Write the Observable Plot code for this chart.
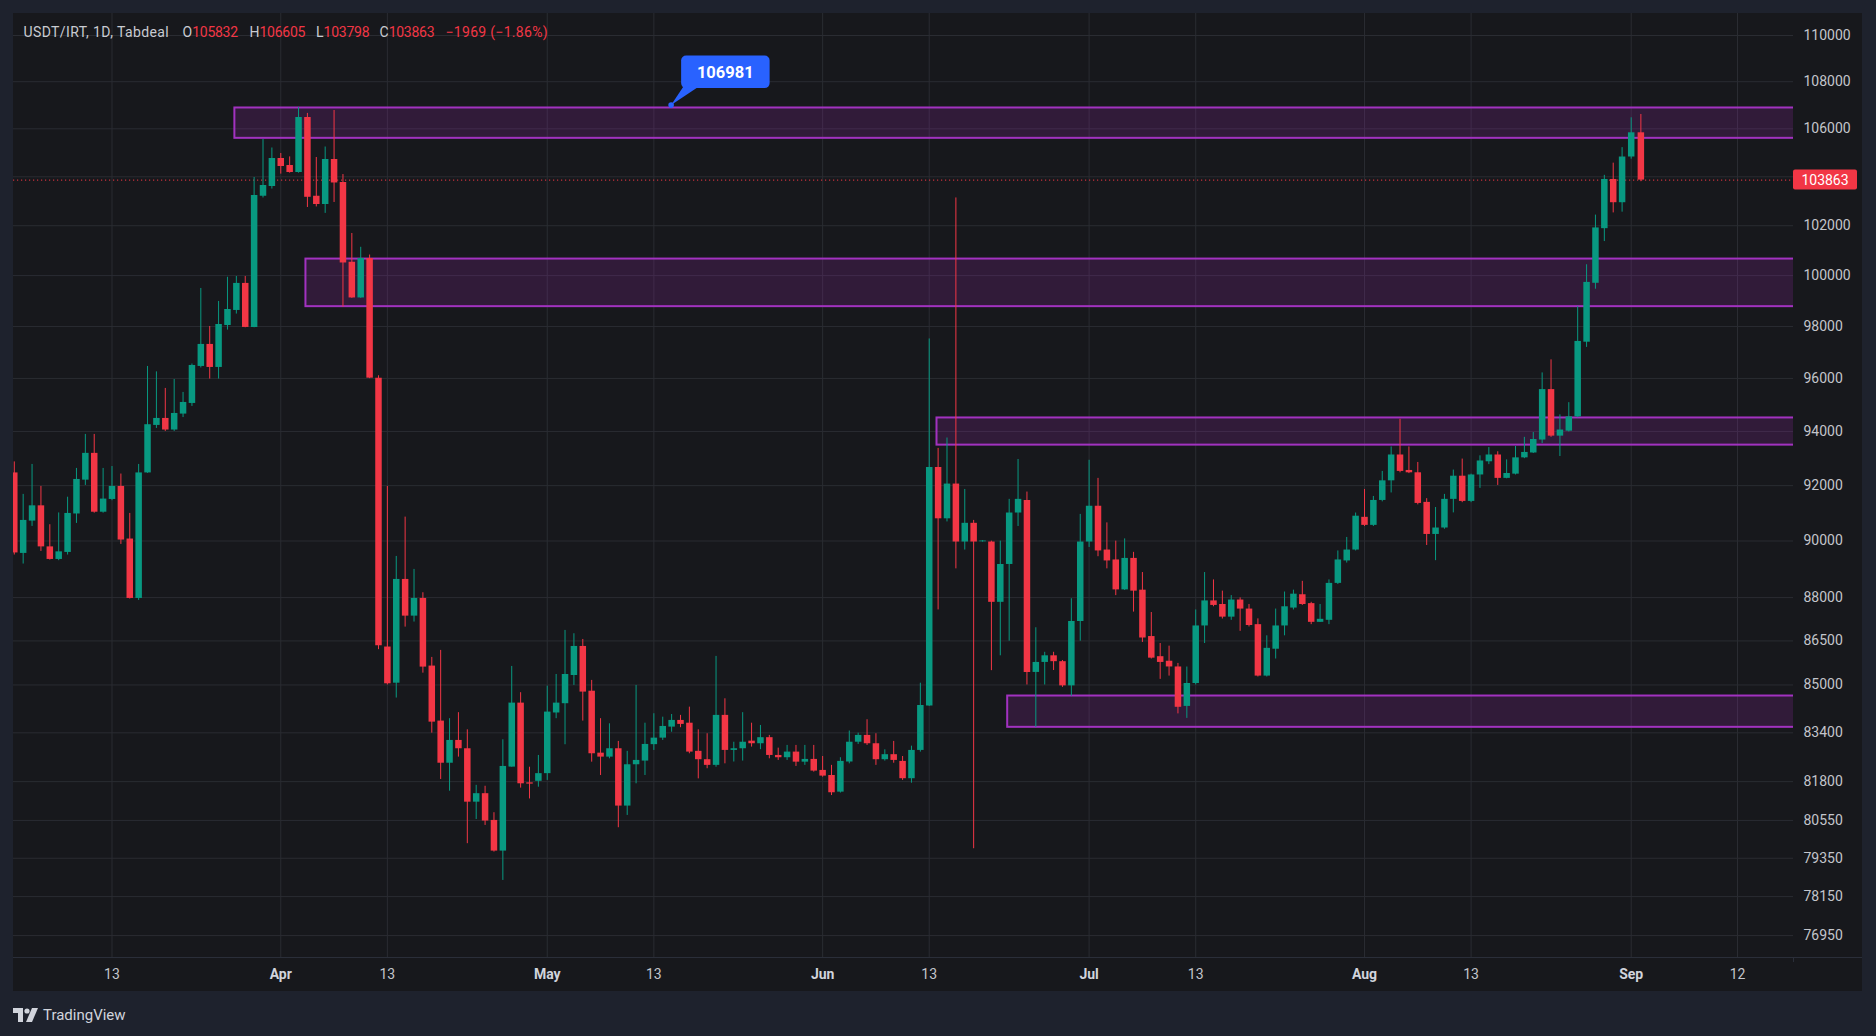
<!DOCTYPE html>
<html>
<head>
<meta charset="utf-8">
<script src="https://cdn.jsdelivr.net/npm/d3@7"></script>
<script src="https://cdn.jsdelivr.net/npm/@observablehq/plot@0.6"></script>
<style>
html,body{margin:0;padding:0;background:#1e222d;width:1876px;height:1036px;overflow:hidden;font-family:Roboto,"Noto Sans",sans-serif;}
#panel{position:absolute;left:13px;top:13px;width:1849px;height:978px;background:#17181c;}
#chart{position:absolute;left:0;top:0;}
#header{position:absolute;left:0;top:24px;height:20px;width:700px;font-size:14px;color:#c9cbd1;white-space:pre;}
#header span{position:absolute;top:0;}
#header .v{color:#f23645;}
#logo{position:absolute;left:13px;top:1005px;height:20px;display:flex;align-items:center;color:#d1d4dc;font-size:15px;}
</style>
</head>
<body>
<div id="panel"></div>
<div id="chart"></div>
<div id="header"></div>
<div id="logo"><svg width="27" height="14" viewBox="0 0 27 14"><path d="M0 0h10v14H5V5H0z" fill="#d1d4dc"/><circle cx="14" cy="3" r="2.6" fill="#d1d4dc"/><path d="M19 0h6l-6 14h-6z" fill="#d1d4dc"/></svg><span style="margin-left:3px">TradingView</span></div>
<script>
// ---- data ----
const firstDay = "2025-03-02";
const lastDay = "2025-09-02";
const missingDays = ["2025-08-31"];
const opens = [92465,89557,90713,91265,89790,89343,89592,90970,92200,93186,91034,91496,91971,90070,87970,92465,94225,94487,94053,94650,95050,96457,97304,96419,98039,98625,99690,97963,103200,103600,104758,104467,104177,106476,103200,102862,104717,103765,100530,99116,100681,96010,86290,85060,88637,87355,87970,85640,83790,82400,83149,82875,81136,81410,80550,79575,82273,84390,81760,81810,82060,84060,84370,85320,86310,84790,82730,82600,82875,81010,82350,82470,83010,83225,83590,83812,83720,82790,82515,82330,83980,82820,82875,83126,83040,83240,82655,82580,82765,82435,82525,82165,82000,81460,82440,83090,83315,83040,82515,82680,82460,81895,82820,84295,92665,90796,92057,89963,90634,89970,89963,87835,89165,91005,91460,85424,85764,85990,85790,84970,87170,89963,91250,89677,89325,88270,89380,88260,86650,85960,85805,85610,84280,85050,87015,87885,87760,87320,87915,87600,87060,85300,86215,87015,87635,88100,87790,87140,87210,88498,89290,89677,90850,90560,91460,92175,93126,92556,92470,91390,90234,90465,91500,92345,91425,92390,92875,93126,92265,92420,93020,93200,93680,95575,93825,94010,94545,97390,99695,101880,103890,102935,104820,105832];
const highs = [92870,91680,92777,91971,90583,91008,91578,92630,93889,93889,92630,92700,92424,90990,92777,96457,96250,95619,95960,95467,96550,99490,98000,98979,99933,99965,99965,103971,105552,105196,104967,104825,106900,106650,104800,105237,106773,104093,101686,101130,100820,96100,91970,89450,90857,88990,88170,85935,86174,83870,84070,83500,81680,81650,80797,83170,85628,84740,82270,82655,84960,85355,86861,86746,86550,85154,83870,83700,83116,82790,84985,83720,84035,83920,84010,83980,84255,83500,83370,85970,84535,83090,84070,83720,83645,83315,82895,82985,82985,82985,82985,82620,82330,82580,83460,83390,83835,83370,82840,83116,82620,82960,85060,97516,93370,93755,103130,91860,90738,90010,89995,89995,91500,92960,91765,86953,86110,86110,85830,87960,90955,92930,92265,90650,89995,90075,89595,88880,87480,86410,86320,85730,85608,87570,88880,88620,88226,88070,87990,87760,87260,86675,87600,88195,88260,88570,87835,87760,88620,89645,90127,91005,91860,91606,92520,93424,94457,93424,92850,91525,91205,91680,92570,92975,92420,93095,93400,93245,92945,93440,93780,93960,96210,96710,94620,95080,98770,100430,102430,104060,104565,105210,106465,106605];
const lows = [89500,89180,90522,89628,89320,89300,89500,90630,92007,91000,91000,91450,89877,87950,87900,92450,94113,94000,94000,94520,94938,96400,95976,95976,97860,98484,97950,97950,103129,103494,104110,104150,104150,102740,102763,102500,102944,98755,99100,99100,95990,86200,85000,84560,86975,87150,85400,83390,81870,81490,82600,79810,80580,80390,79544,78654,82270,81590,81240,81620,81840,83870,83007,84985,83790,82435,82000,82545,80317,80710,81730,82000,82820,83149,83420,83570,82710,81890,82220,82270,82380,82440,82470,82930,82845,82545,82492,82492,82295,82330,82110,81945,81350,81430,82380,83017,82985,82330,82470,82400,81840,81750,82765,84280,87570,90684,89010,89677,79650,89960,85485,85990,86490,90520,85000,83580,85000,85490,84920,84620,86490,89770,89440,89010,88070,88250,87495,86448,85880,85190,85300,84030,83880,85000,86410,87680,87255,87210,86830,86980,85270,85270,85880,86675,87570,87727,87060,87140,87060,88460,89215,89645,90520,90520,91410,91733,92470,92440,91300,89840,89300,90420,91010,91380,91380,91900,92770,92007,92250,92390,92990,93180,93550,93780,93070,93980,94515,97190,99460,101360,102520,102550,104730,103798];
const closes = [89574,90738,91265,89790,89343,89613,90990,92226,93186,91034,91510,91971,90034,87970,92465,94252,94487,94053,94674,95088,96495,97304,96419,98078,98664,99690,97963,103231,103642,104758,104426,104177,106476,103157,102862,104717,103745,100502,99116,100681,96010,86330,85040,88637,87355,87970,85605,83755,82400,83149,82875,81136,81410,80530,79575,82295,84390,81730,81720,82060,84090,84390,85355,86310,84760,82710,82600,82875,81010,82350,82492,83017,83225,83612,83812,83680,82765,82515,82330,83980,82820,82875,83090,83040,83240,82655,82580,82765,82435,82525,82143,81980,81440,82460,83090,83315,83040,82515,82680,82492,81895,82820,84310,92665,90796,92057,89963,90634,89963,90000,87835,89165,91005,91500,85424,85764,85990,85790,84970,87170,89963,91250,89645,89290,88270,89380,88226,86600,85910,85764,85610,84250,85050,87015,87885,87727,87320,87915,87600,87030,85300,86245,87015,87680,88120,87760,87140,87245,88498,89325,89677,90890,90560,91460,92175,93126,92520,92470,91352,90234,90465,91500,92345,91425,92390,92905,93126,92265,92445,93020,93220,93700,95575,93825,94053,94545,97420,99730,101910,103890,102935,104820,105832,103863];

// horizontal zones (purple boxes)
const zoneStart = ["2025-03-26T20:00Z","2025-04-03T20:00Z","2025-06-13T21:00Z","2025-06-21T20:00Z"];
const zoneHigh = [106880, 100658, 94505, 84628];
const zoneLow = [105600, 98774, 93491, 83583];

// tick labels
const yTicks = [110000,108000,106000,102000,100000,98000,96000,94000,92000,90000,88000,86500,85000,83400,81800,80550,79350,78150,76950];
const yGrid = [110000,108000,106000,104000,102000,100000,98000,96000,94000,92000,90000,88000,86500,85000,83400,81800,80550,79350,78150,76950];
const dayTicks = ["2025-03-13","2025-04-13","2025-05-13","2025-06-13","2025-07-13","2025-08-13","2025-09-12"];
const monthTicks = ["2025-04-01","2025-05-01","2025-06-01","2025-07-01","2025-08-01","2025-09-01"];

const calloutDate = "2025-05-15";
const calloutValue = 106981;
const symbolText = "USDT/IRT, 1D, Tabdeal";
const ohlcLabels = ["O","H","L","C"];
const ohlcValues = ["105832","106605","103798","103863"];
const changeText = "\u22121969 (\u22121.86%)";

// ---- build ----
const GREEN = "#089981", RED = "#f23645";
const skip = new Set(missingDays);
const days = d3.utcDay.range(new Date(firstDay), d3.utcDay.offset(new Date(lastDay), 1))
  .filter(d => !skip.has(d3.utcFormat("%Y-%m-%d")(d)));
const candles = days.map((d, i) => ({date: d, open: opens[i], high: highs[i], low: lows[i], close: closes[i]}));
const zones = zoneStart.map((s, i) => ({start: new Date(s), end: new Date("2025-09-25"), high: zoneHigh[i], low: zoneLow[i]}));
const last = candles[candles.length - 1];
const col = d => d.close >= d.open ? GREEN : RED;
const fmtDay = d3.utcFormat("%-d"), fmtMon = d3.utcFormat("%b");

const chart = Plot.plot({
  width: 1876, height: 1036,
  marginLeft: 13, marginRight: 83, marginTop: 13, marginBottom: 79,
  style: {background: "transparent", fontFamily: "Roboto, 'Noto Sans', sans-serif", fontSize: "14px", color: "#c3c5cb"},
  x: {type: "utc",
      domain: [new Date("2025-03-01T21:53Z"), new Date("2025-08-30"), new Date("2025-09-01"), new Date("2025-09-12"), new Date("2025-09-18T07:00Z")],
      range: [13, 1621.6, 1630.7, 1737, 1793]},
  y: {type: "log", domain: [76284, 110965]},
  marks: [
    Plot.gridX([...dayTicks, ...monthTicks].map(d => new Date(d)), {stroke: "#2a2c32", strokeOpacity: 1}),
    Plot.gridY(yGrid, {stroke: "#2a2c32", strokeOpacity: 1}),
    Plot.rect(zones, {x1: "start", x2: "end", y1: "low", y2: "high", fill: "#9c27b0", fillOpacity: 0.2, stroke: "#a232c0", strokeWidth: 2, clip: true}),
    Plot.ruleY([last.close], {stroke: RED, strokeDasharray: "1.2,2.8", strokeWidth: 1}),
    Plot.ruleX(candles, {x: "date", y1: "low", y2: "high", stroke: col, strokeWidth: 1, clip: true}),
    Plot.ruleX(candles, {x: "date", y1: "open", y2: "close", stroke: col, strokeWidth: 6.5, clip: true}),
    Plot.axisY(yTicks, {anchor: "right", tickSize: 0, tickPadding: 10, tickFormat: d => String(d), fill: "#c3c5cb", fontSize: 14}),
    Plot.axisX(dayTicks.map(d => new Date(d)), {anchor: "bottom", tickSize: 0, tickPadding: 12, tickFormat: fmtDay, fill: "#c3c5cb", fontSize: 14}),
    Plot.axisX(monthTicks.map(d => new Date(d)), {anchor: "bottom", tickSize: 0, tickPadding: 12, tickFormat: fmtMon, fill: "#d1d4dc", fontSize: 14, fontWeight: "bold"})
  ]
});
document.getElementById("chart").appendChild(chart);

// overlays using plot scales
const xs = chart.scale("x"), ys = chart.scale("y");
const svg = d3.select(chart);
svg.append("line").attr("x1", 13).attr("x2", 1862).attr("y1", 957.5).attr("y2", 957.5).attr("stroke", "#2a2e39");
svg.append("line").attr("x1", 1793.5).attr("x2", 1793.5).attr("y1", 957).attr("y2", 962).attr("stroke", "#2a2e39");
// price label
const py = ys.apply(last.close);
const pl = svg.append("g");
pl.append("rect").attr("x", 1793).attr("y", py - 10).attr("width", 64).attr("height", 20).attr("rx", 2).attr("fill", RED);
pl.append("text").attr("x", 1825).attr("y", py).attr("dy", "0.36em").attr("text-anchor", "middle")
  .attr("fill", "#ffffff").attr("font-size", 14).text(String(last.close));
// callout
const cx = xs.apply(new Date(calloutDate)), cy = ys.apply(calloutValue);
const cg = svg.append("g");
cg.append("path").attr("d", `M${cx + 12},${cy - 18} L${cx + 27},${cy - 18} L${cx},${cy} Z`).attr("fill", "#2962ff");
cg.append("rect").attr("x", cx + 10).attr("y", cy - 49.5).attr("width", 88.5).attr("height", 32.5).attr("rx", 5).attr("fill", "#2962ff");
cg.append("circle").attr("cx", cx).attr("cy", cy).attr("r", 2.8).attr("fill", "#2962ff");
cg.append("text").attr("x", cx + 54.2).attr("y", cy - 33.2).attr("dy", "0.36em").attr("text-anchor", "middle")
  .attr("fill", "#ffffff").attr("font-size", 16.5).attr("font-weight", "bold").text(String(calloutValue));

// header (segments placed like the TradingView legend)
const headerLeft = [23.5, 182.5, 249.5, 316, 379.5, 445.5];
const h = document.getElementById("header");
let html = `<span style="left:${headerLeft[0]}px;letter-spacing:0.4px">${symbolText}</span>`;
ohlcLabels.forEach((l, i) => { html += `<span style="left:${headerLeft[i + 1]}px">${l}<span class="v" style="position:static;letter-spacing:-0.25px">${ohlcValues[i]}</span></span>`; });
html += `<span class="v" style="left:${headerLeft[5]}px;letter-spacing:0.3px">${changeText}</span>`;
h.innerHTML = html;
</script>
</body>
</html>
